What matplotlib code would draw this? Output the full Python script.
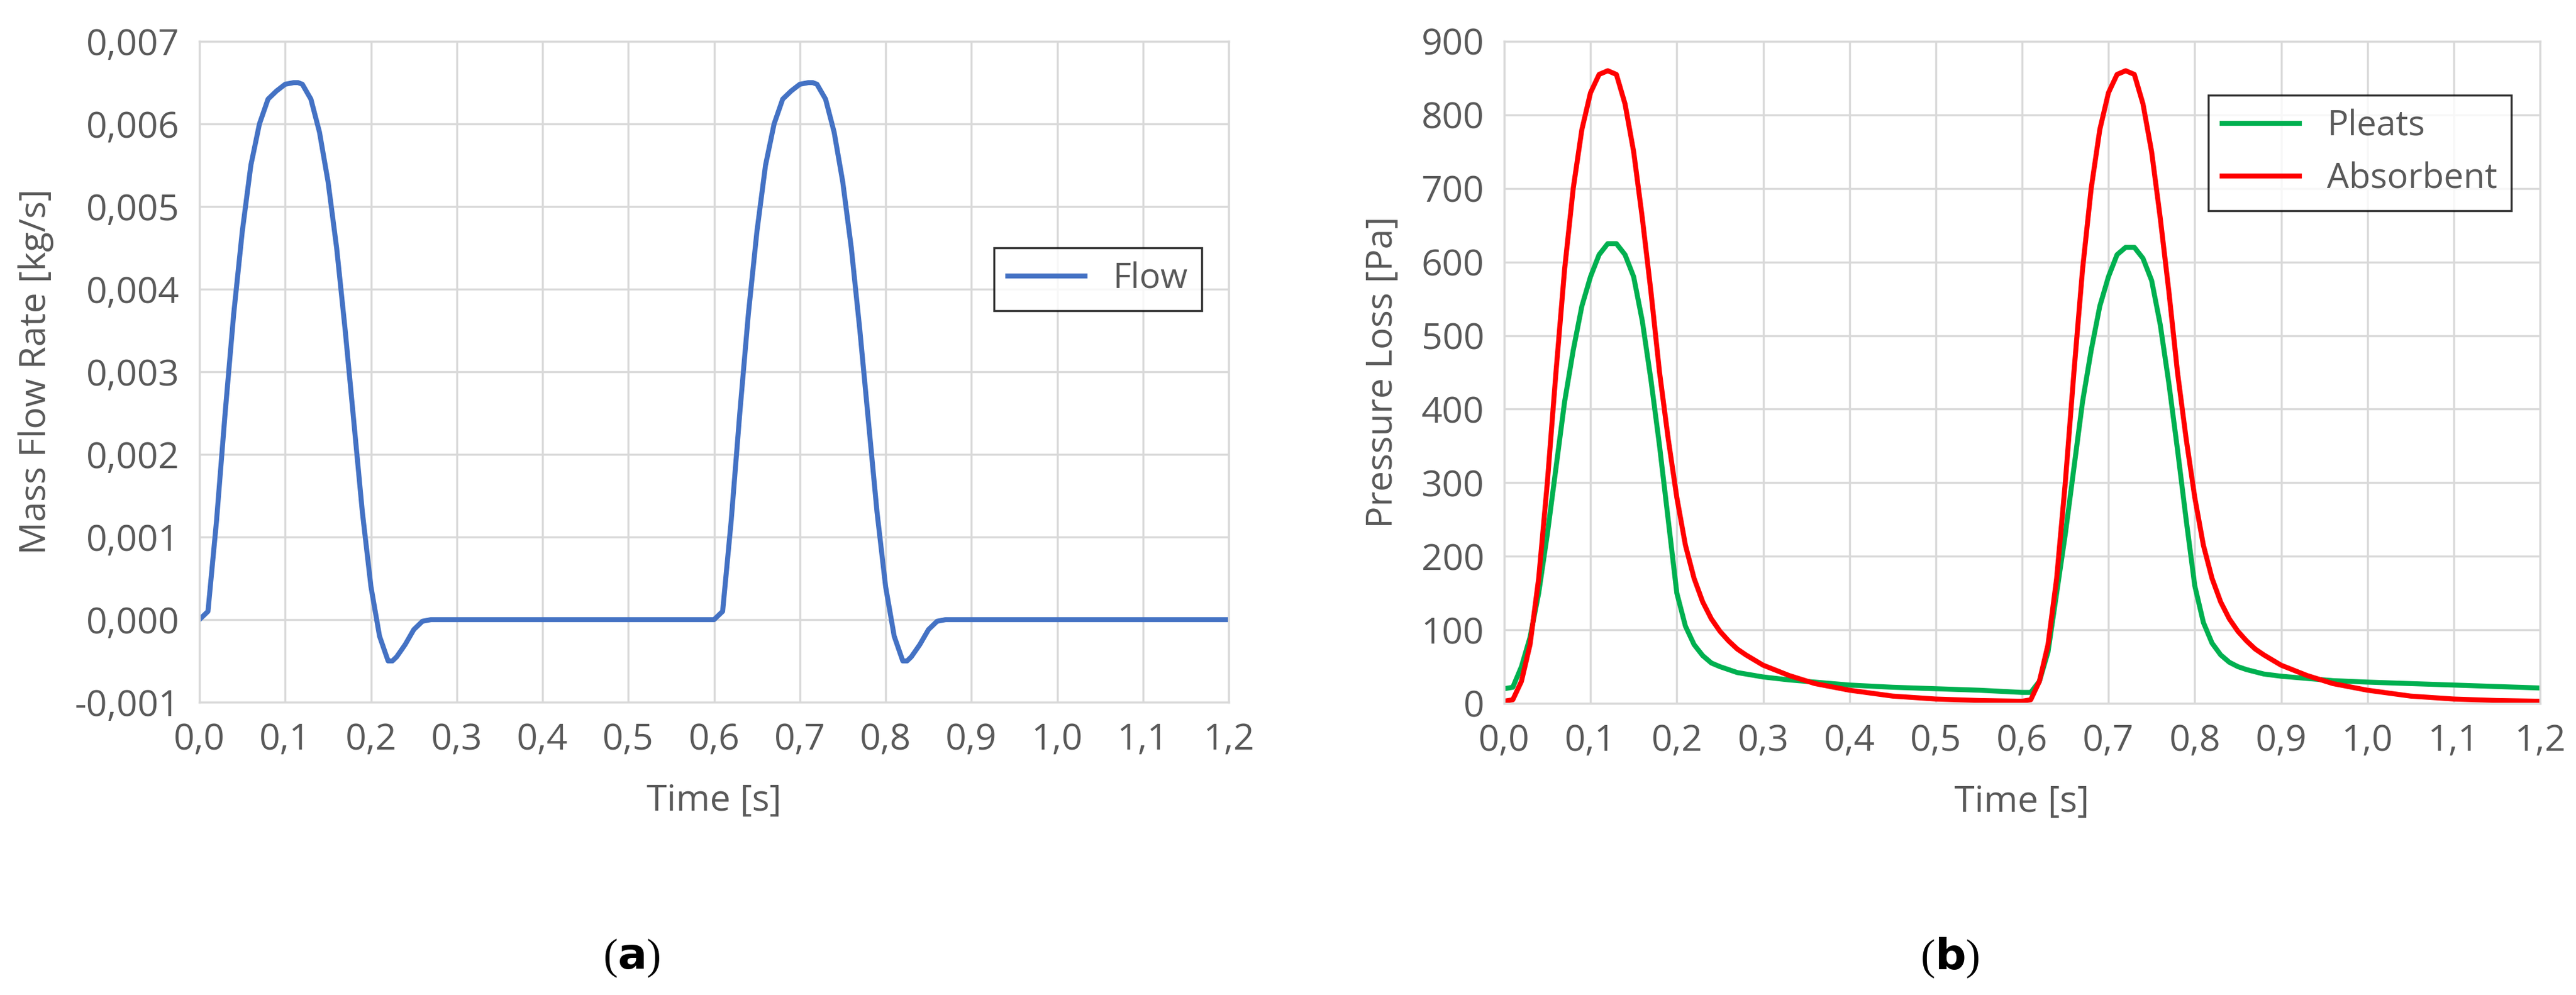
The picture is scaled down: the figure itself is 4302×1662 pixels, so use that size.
import matplotlib
matplotlib.use("Agg")
import matplotlib.pyplot as plt
from matplotlib.ticker import FuncFormatter, MultipleLocator

# ---- data ----
t_flow = [0.00,0.01,0.02,0.03,0.04,0.05,0.06,0.07,0.08,0.09,0.10,0.11,0.115,0.12,0.13,0.14,0.15,0.16,0.17,0.18,0.19,0.20,0.21,0.22,0.225,0.23,0.24,0.25,0.26,0.27,
          0.60,0.61,0.62,0.63,0.64,0.65,0.66,0.67,0.68,0.69,0.70,0.71,0.715,0.72,0.73,0.74,0.75,0.76,0.77,0.78,0.79,0.80,0.81,0.82,0.825,0.83,0.84,0.85,0.86,0.87,1.20]
flow = [0.0,0.0001,0.0012,0.0025,0.0037,0.0047,0.0055,0.0060,0.0063,0.0064,0.00648,0.0065,0.0065,0.00648,0.0063,0.0059,0.0053,0.0045,0.0035,0.0024,0.0013,0.0004,-0.0002,-0.0005,-0.0005,-0.00045,-0.0003,-0.00012,-0.00002,0.0,
        0.0,0.0001,0.0012,0.0025,0.0037,0.0047,0.0055,0.0060,0.0063,0.0064,0.00648,0.0065,0.0065,0.00648,0.0063,0.0059,0.0053,0.0045,0.0035,0.0024,0.0013,0.0004,-0.0002,-0.0005,-0.0005,-0.00045,-0.0003,-0.00012,-0.00002,0.0,0.0]

t_p = [0.00,0.01,0.02,0.03,0.04,0.05,0.06,0.07,0.08,0.09,0.10,0.11,0.12,0.13,0.14,0.15,0.16,0.17,0.18,0.19,0.20,0.21,0.22,0.23,0.24,0.25,0.26,0.27,0.28,0.30,0.33,0.36,0.40,0.45,0.50,0.55,0.60,0.61,
       0.62,0.63,0.64,0.65,0.66,0.67,0.68,0.69,0.70,0.71,0.72,0.73,0.74,0.75,0.76,0.77,0.78,0.79,0.80,0.81,0.82,0.83,0.84,0.85,0.86,0.87,0.88,0.90,0.93,0.96,1.00,1.05,1.10,1.15,1.20]
pleats = [20,22,50,90,150,230,320,410,480,540,580,610,625,625,610,580,520,440,350,250,150,105,80,65,55,50,46,42,40,36,32,29,25,22,20,18,15,15,
          30,70,150,230,320,410,480,540,580,610,620,620,605,575,515,435,345,250,160,110,82,66,56,50,46,43,40,37,34,31,29,27,25,23,21]
absorb = [3,5,30,80,170,300,450,590,700,780,830,855,860,855,815,750,660,560,450,360,280,215,170,138,115,98,85,74,66,52,38,27,18,10,6,4,3,5,
          30,80,170,300,450,590,700,780,830,855,860,855,815,750,660,560,450,360,280,215,170,138,115,98,85,74,66,52,38,27,18,10,6,4,3]

x_ticks = [0.0,0.1,0.2,0.3,0.4,0.5,0.6,0.7,0.8,0.9,1.0,1.1,1.2]

plt.rcParams['font.family'] = ['Open Sans', 'DejaVu Sans']
W, H = 4302, 1662
fig = plt.figure(figsize=(W/100, H/100), dpi=100)
grey = '#595959'
gridc = '#d9d9d9'

def style(ax):
    ax.grid(True, color=gridc, lw=2.5)
    for s in ax.spines.values():
        s.set_color(gridc); s.set_linewidth(2.5)
    ax.tick_params(length=0, labelsize=44, colors=grey, pad=24)
    ax.set_xlim(0, 1.2)
    ax.set_xticks(x_ticks)
    ax.xaxis.set_major_formatter(FuncFormatter(lambda v, p: f"{v:.1f}".replace('.', ',')))
    ax.set_xlabel('Time [s]', fontsize=44, color=grey, labelpad=30)

ax1 = fig.add_axes([333/W, 1-1173/H, (2052-333)/W, (1173-69)/H])
ax1.plot(t_flow, flow, color='#4472C4', lw=6, label='Flow')
ax1.set_ylim(-0.001, 0.007)
ax1.yaxis.set_major_locator(MultipleLocator(0.001))
ax1.yaxis.set_major_formatter(FuncFormatter(lambda v, p: f"{v:.3f}".replace('.', ',').replace('-0,000', '0,000')))
style(ax1)
ax1.set_ylabel('Mass Flow Rate [kg/s]', fontsize=44, color=grey, labelpad=25)
leg = ax1.legend(loc='center left', bbox_to_anchor=(0.755, 0.64), fontsize=42, frameon=True, fancybox=False, handlelength=2.2)
leg.get_frame().set_edgecolor('black'); leg.get_frame().set_linewidth(2.5)
for tx in leg.get_texts(): tx.set_color(grey)

ax2 = fig.add_axes([2512/W, 1-1175/H, (4242-2512)/W, (1175-69)/H])
ax2.plot(t_p, pleats, color='#00B050', lw=6, label='Pleats')
ax2.plot(t_p, absorb, color='#FF0000', lw=6, label='Absorbent')
ax2.set_ylim(0, 900)
ax2.yaxis.set_major_locator(MultipleLocator(100))
style(ax2)
ax2.set_ylabel('Pressure Loss [Pa]', fontsize=44, color=grey, labelpad=25)
leg = ax2.legend(loc='upper left', bbox_to_anchor=(0.663, 0.945), fontsize=42, frameon=True, fancybox=False, handlelength=2.2)
leg.get_frame().set_edgecolor('black'); leg.get_frame().set_linewidth(2.5)
for tx in leg.get_texts(): tx.set_color(grey)

fig.text(1055/W, 1-1600/H, r'($\mathbf{a}$)', fontsize=52, family='Liberation Serif', ha='center', va='center')
fig.text(3256/W, 1-1600/H, r'($\mathbf{b}$)', fontsize=52, family='Liberation Serif', ha='center', va='center')
fig.savefig('out.png', dpi=100)
